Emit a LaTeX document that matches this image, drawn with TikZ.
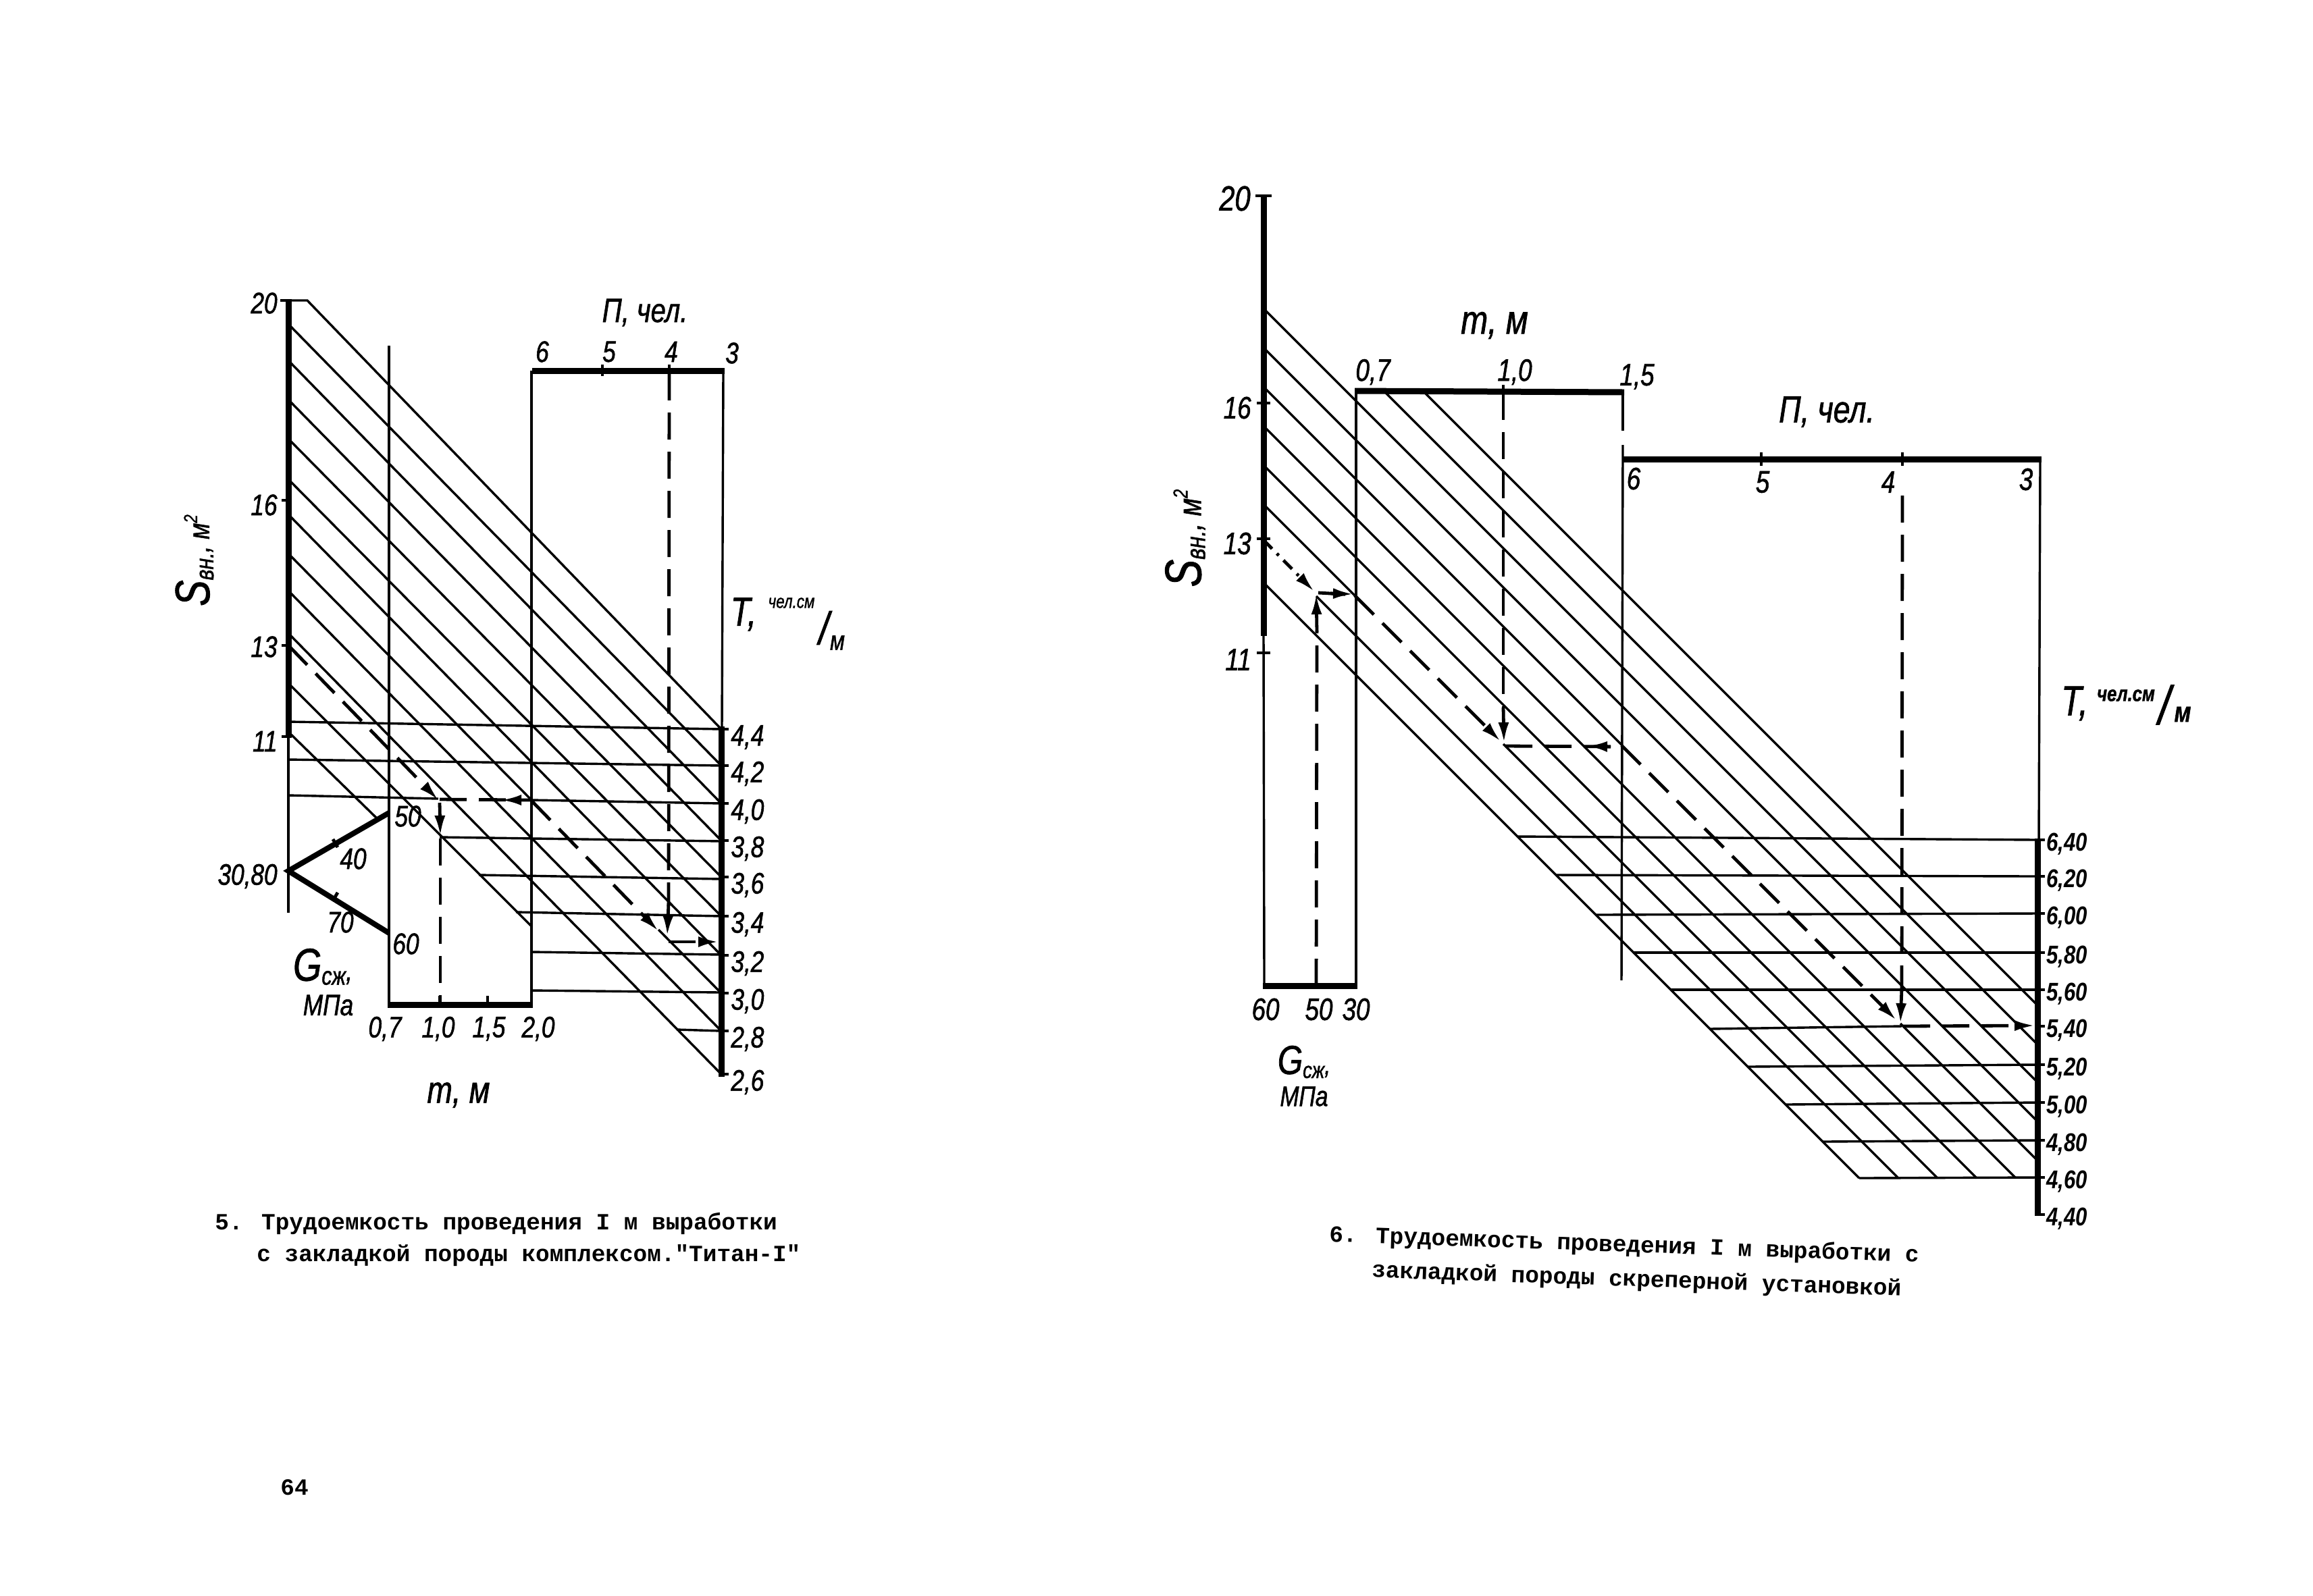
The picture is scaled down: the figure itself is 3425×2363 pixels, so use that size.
\documentclass[tikz,border=0pt]{standalone}
\usepackage{fontspec}
\usetikzlibrary{arrows.meta}
\newfontfamily\hw[FakeStretch=0.8,FakeBold=1.2]{Liberation Sans}
\newfontfamily\hwn[FakeStretch=0.82]{Liberation Sans}
\newfontfamily\tw{Liberation Mono}
\tikzset{
 hl/.style={line width=1.7pt},
 ax/.style={line width=4.5pt},
 tk/.style={line width=2.4pt},
 dl/.style={line width=2.4pt, dash pattern=on 20pt off 9pt},
 ah/.style={-{Latex[length=15pt,width=8pt]}},
 ar/.style={line width=2.4pt,-{Latex[length=15pt,width=8pt]}},
 lb5/.style={font=\hw\itshape\fontsize{22}{22}\selectfont, inner sep=0pt},
 lb6/.style={font=\hw\itshape\fontsize{23}{23}\selectfont, inner sep=0pt},
 tl6/.style={font=\hwn\bfseries\itshape\fontsize{19}{19}\selectfont, inner sep=0pt, anchor=west},
 ttl/.style={font=\hw\itshape\fontsize{25}{25}\selectfont, inner sep=0pt},
 captxt/.style={font=\tw\bfseries\fontsize{17.2}{17.2}\selectfont, inner sep=0pt, anchor=west},
 tp/.style={inner sep=0pt, font=\hw\itshape},
}
\begin{document}
\begin{tikzpicture}[x=0.5pt,y=-0.5pt]
\fill[white] (0,0) rectangle (3425,2363);
\useasboundingbox (0,0) rectangle (3425,2363);

%================ FIGURE 5 =================
% S axis
\draw[ax] (427,443) -- (427,1091);
\draw[hl] (427,1091) -- (427,1352);
\draw[tk] (415,445) -- (427,445);
\foreach \y in {741,956,1091} \draw[tk] (417,\y) -- (432,\y);
\node[lb5,anchor=east] (s5a) at (411,449) {20};
\node[lb5,anchor=east] (s5b) at (411,748) {16};
\node[lb5,anchor=east] (s5c) at (411,958) {13};
\node[lb5,anchor=east] (s5d) at (411,1098) {11};
\node[rotate=90,inner sep=0pt,font=\hw\itshape] (s5l) at (288,830)
 {{\fontsize{36}{36}\selectfont S}\raisebox{-3pt}{\fontsize{19}{19}\selectfont вн.}{\fontsize{22}{22}\selectfont , м}\raisebox{9pt}{\fontsize{14}{14}\selectfont 2}};

% diagonal family
\draw[hl] (427,445) -- (455,445) -- (1068,1080);
\foreach \a/\b in {480/1134,534/1190,592/1245,650/1299,710/1357,762/1415,875/1527,938/1591}
  \draw[hl] (427,\a) -- (1068,\b);
\draw[hl] (427,820) -- (787,1185);
\draw[hl] (975,1377) -- (1068,1471);
\draw[hl] (427,1012) -- (787,1372);
\draw[hl] (427,1084) -- (559,1213);

% horizontals
\draw[hl] (427,1069) -- (1068,1080);
\draw[hl] (427,1125) -- (1068,1134);
\draw[hl] (427,1178) -- (649,1183);
\draw[hl] (787,1185) -- (1068,1190);
\draw[hl] (651,1240) -- (1068,1246);
\draw[hl] (709,1296) -- (1068,1302);
\draw[hl] (764,1351) -- (1068,1357);
\draw[hl] (787,1410) -- (1068,1414);
\draw[hl] (787,1467) -- (1068,1470);
\draw[hl] (1002,1525) -- (1068,1527);

% verticals
\draw[hl] (576,512) -- (576,1488);
\draw[hl] (787,549) -- (787,1488);
\draw[hl] (1071,549) -- (1069,1078);
\draw[ax] (1068,1076) -- (1068,1595);

% T ticks and labels
\foreach \y/\t [count=\i] in {1080/{4,4},1134/{4,2},1190/{4,0},1245/{3,8},1299/{3,6},1357/{3,4},1415/{3,2},1471/{3,0},1527/{2,8},1591/{2,6}}{
  \draw[tk] (1068,\y) -- (1079,\y);
  \node[lb5,anchor=west] (tl5-\i) at (1082,\y+12) {\t};
}
\node[tp,font=\hw\itshape\fontsize{30}{30}\selectfont] (tt5a) at (1101,910) {T,};
\node[tp,font=\hw\itshape\fontsize{14}{14}\selectfont] (tt5b) at (1172,893) {чел.см};
\node[tp,font=\hw\itshape\fontsize{34}{34}\selectfont] (tt5c) at (1220,930) {/};
\node[tp,font=\hw\itshape\fontsize{20}{20}\selectfont] (tt5d) at (1240,952) {м};

% n axis
\draw[ax] (788,549) -- (1073,549);
\draw[tk] (892,540) -- (892,557);
\draw[tk] (991,540) -- (991,557);
\node[lb5] (n5a) at (803,521) {6};
\node[lb5] (n5b) at (902,521) {5};
\node[lb5] (n5c) at (994,521) {4};
\node[lb5] (n5d) at (1084,523) {3};
\node[ttl] (n5t) at (955,463) {П, чел.};

% m axis
\draw[ax] (574,1488) -- (789,1488);
\draw[tk] (651,1475) -- (651,1492);
\draw[tk] (722,1475) -- (722,1492);
\node[lb5] (m5a) at (570,1524) {0,7};
\node[lb5] (m5b) at (649,1524) {1,0};
\node[lb5] (m5c) at (724,1524) {1,5};
\node[lb5] (m5d) at (797,1524) {2,0};
\node[ttl,font=\hw\itshape\fontsize{28}{28}\selectfont] (m5t) at (679,1622) {m, м};

% G triangle
\draw[line width=4pt,line join=miter] (576,1204) -- (427,1290) -- (576,1382);
\draw[tk] (493,1243) -- (500,1255);
\draw[tk] (493,1334) -- (500,1322);
\node[lb5] (g5a) at (604,1209) {50};
\node[lb5] (g5b) at (523,1272) {40};
\node[lb5] (g5c) at (504,1366) {70};
\node[lb5] (g5d) at (601,1398) {60};
\node[lb5,anchor=east] (g5e) at (411,1298) {30,80};
\node[inner sep=0pt,font=\hw\itshape] (g5t) at (478,1432)
 {{\fontsize{34}{34}\selectfont G}\raisebox{-3pt}{\fontsize{19}{19}\selectfont сж}{\fontsize{22}{22}\selectfont ,}};
\node[inner sep=0pt,font=\hw\itshape\fontsize{22}{22}\selectfont] (g5u) at (486,1489) {МПа};

% dashed solution path
\draw[dl,ah] (427,956) -- (649,1185);
\draw[ar] (651,1189) -- (652,1238);
\draw[dl] (652,1242) -- (652,1488);
\draw[dl] (651,1184) -- (787,1185);
\draw[ar] (777,1185) -- (742,1185);
\draw[dl,ah] (787,1186) -- (975,1379);
\draw[dl] (991,553) -- (990,1342);
\draw[ar] (990,1338) -- (988,1386);
\draw[dl,ah] (990,1395) -- (1064,1395);

%================ FIGURE 6 =================
% S axis
\draw[ax] (1871,288) -- (1871,942);
\draw[hl] (1871,942) -- (1872,1460);
\draw[tk] (1859,290) -- (1883,290);
\foreach \y in {597,798,967} \draw[tk] (1861,\y) -- (1881,\y);
\node[lb6,anchor=east,font=\hw\itshape\fontsize{26}{26}\selectfont] (s6a) at (1852,294) {20};
\node[lb6,anchor=east] (s6b) at (1853,604) {16};
\node[lb6,anchor=east] (s6c) at (1853,805) {13};
\node[lb6,anchor=east] (s6d) at (1853,977) {11};
\node[rotate=90,inner sep=0pt,font=\hw\itshape] (s6l) at (1755,797)
 {{\fontsize{38}{38}\selectfont S}\raisebox{-3pt}{\fontsize{20}{20}\selectfont вн.}{\fontsize{24}{24}\selectfont , м}\raisebox{10pt}{\fontsize{15}{15}\selectfont 2}};

% diagonal family (slope 1)
\draw[hl] (2107,579) -- (3017,1489);
\draw[hl] (2049,579) -- (3017,1547);
\draw[hl] (1871,457) -- (3017,1603);
\draw[hl] (1871,515) -- (3017,1661);
\draw[hl] (1871,573) -- (2401,1103);
\draw[hl] (2814,1516) -- (3017,1719);
\draw[hl] (1871,631) -- (2985,1745);
\draw[hl] (1871,689) -- (2927,1745);
\draw[hl] (1871,747) -- (2006,882);
\draw[hl] (2226,1102) -- (2869,1745);
\draw[hl] (1949,883) -- (2811,1745);
\draw[hl] (1871,863) -- (2753,1745);

% horizontals
\draw[hl] (2247,1239) -- (3017,1244);
\draw[hl] (2304,1296) -- (3017,1298);
\draw[hl] (2363,1355) -- (3017,1353);
\draw[hl] (2418,1411) -- (3017,1411);
\draw[hl] (2474,1466) -- (3017,1466);
\draw[hl] (2531,1524) -- (2816,1520);
\draw[hl] (2588,1580) -- (3017,1577);
\draw[hl] (2644,1636) -- (3017,1633);
\draw[hl] (2699,1691) -- (3017,1689);
\draw[hl] (2753,1745) -- (3017,1744);

% verticals
\draw[hl] (2008,579) -- (2008,1460);
\draw[hl] (2403,583) -- (2403,638);
\draw[hl] (2403,659) -- (2401,1452);
\draw[hl] (3021,680) -- (3019,1244);
\draw[ax] (3017,1242) -- (3017,1801);

% T ticks and labels
\foreach \y/\t [count=\i] in {1244/{6,40},1298/{6,20},1353/{6,00},1411/{5,80},1466/{5,60},1520/{5,40},1577/{5,20},1633/{5,00},1689/{4,80},1744/{4,60},1799/{4,40}}{
  \draw[tk] (3017,\y) -- (3028,\y);
  \node[tl6] (tl6-\i) at (3030,\y+6) {\t};
}
\node[tp,font=\hw\itshape\fontsize{31}{31}\selectfont] (tt6a) at (3072,1042) {T,};
\node[tp,font=\hw\bfseries\itshape\fontsize{16}{16}\selectfont] (tt6b) at (3148,1030) {чел.см};
\node[tp,font=\hw\itshape\fontsize{40}{40}\selectfont] (tt6c) at (3205,1044) {/};
\node[tp,font=\hw\bfseries\itshape\fontsize{21}{21}\selectfont] (tt6d) at (3232,1058) {м};

% m axis
\draw[ax] (2006,579) -- (2405,581);
\draw[tk] (2226,570) -- (2226,586);
\node[lb6] (m6a) at (2033,551) {0,7};
\node[lb6] (m6b) at (2243,551) {1,0};
\node[lb6] (m6c) at (2424,558) {1,5};
\node[ttl,font=\hw\itshape\fontsize{30}{30}\selectfont] (m6t) at (2213,482) {m, м};

% n axis
\draw[ax] (2403,680) -- (3023,680);
\draw[tk] (2608,670) -- (2608,690);
\draw[tk] (2817,670) -- (2817,690);
\node[lb6] (n6a) at (2419,709) {6};
\node[lb6] (n6b) at (2610,714) {5};
\node[lb6] (n6c) at (2796,714) {4};
\node[lb6] (n6d) at (3000,710) {3};
\node[ttl,font=\hw\itshape\fontsize{28}{28}\selectfont] (n6t) at (2705,610) {П, чел.};

% G axis
\draw[ax] (1870,1460) -- (2010,1460);
\draw[tk] (1949,1450) -- (1949,1464);
\node[lb6] (g6a) at (1874,1495) {60};
\node[lb6] (g6b) at (1953,1495) {50};
\node[lb6] (g6c) at (2008,1495) {30};
\node[inner sep=0pt,font=\hw\itshape] (g6t) at (1931,1573)
 {{\fontsize{30}{30}\selectfont G}\raisebox{-3pt}{\fontsize{17}{17}\selectfont сж}{\fontsize{20}{20}\selectfont ,}};
\node[inner sep=0pt,font=\hw\itshape\fontsize{21}{21}\selectfont] (g6u) at (1931,1624) {МПа};

% dashed solution path
\draw[line width=2.4pt,dash pattern=on 9pt off 5pt on 2pt off 5pt,ah] (1871,800) -- (1946,876);
\draw[dl] (1949,1460) -- (1950,934);
\draw[ar] (1950,936) -- (1949,880);
\draw[dl] (1952,878) -- (2006,881);
\draw[ar] (1970,879) -- (2004,880);
\draw[dl,ah] (2006,882) -- (2222,1098);
\draw[dl] (2226,582) -- (2226,1052);
\draw[ar] (2226,1048) -- (2227,1100);
\draw[dl] (2229,1105) -- (2401,1106);
\draw[ar] (2385,1106) -- (2350,1105);
\draw[dl,ah] (2401,1104) -- (2808,1511);
\draw[dl] (2817,734) -- (2816,1468);
\draw[ar] (2816,1464) -- (2814,1516);
\draw[dl,ah] (2818,1520) -- (3013,1519);

%================ CAPTIONS =================
\node[captxt] (c5a) at (318,1812) {5. Трудоемкость проведения I м выработки};
\node[captxt] (c5b) at (380,1860) {с закладкой породы комплексом."Титан-I"};
\node[captxt,rotate=-2] (c6a) at (1968,1830) {6. Трудоемкость проведения I м выработки с};
\node[captxt,rotate=-2] (c6b) at (2031,1883) {закладкой породы скреперной установкой};
\node[captxt] (pg) at (415,2203) {64};

\end{tikzpicture}
\end{document}
